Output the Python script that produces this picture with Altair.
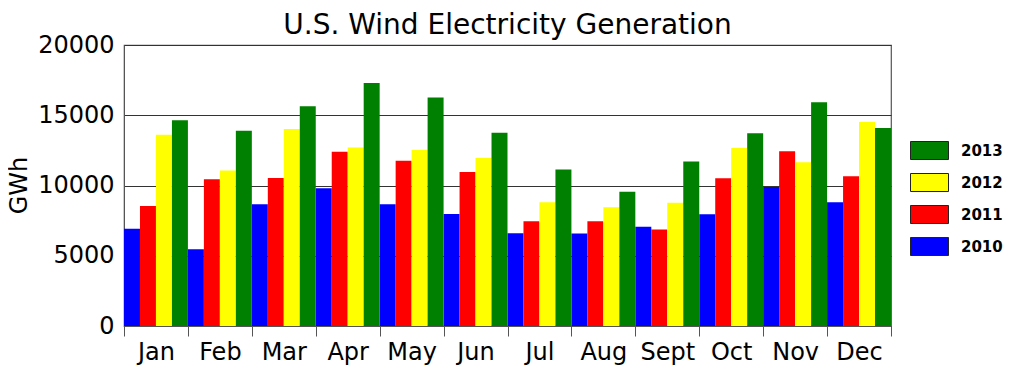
import altair as alt
import pandas as pd

months = ["Jan", "Feb", "Mar", "Apr", "May", "Jun", "Jul", "Aug", "Sept", "Oct", "Nov", "Dec"]
years = ["2010", "2011", "2012", "2013"]
gen_2010 = [6930, 5460, 8660, 9800, 8660, 7970, 6600, 6580, 7070, 7950, 9890, 8800]
gen_2011 = [8540, 10440, 10530, 12410, 11770, 10960, 7450, 7450, 6860, 10510, 12430, 10650]
gen_2012 = [13620, 11060, 14020, 12700, 12530, 11960, 8800, 8450, 8780, 12670, 11650, 14520]
gen_2013 = [14640, 13900, 15640, 17300, 16260, 13760, 11130, 9560, 11700, 13720, 15920, 14090]

series = {"2010": gen_2010, "2011": gen_2011, "2012": gen_2012, "2013": gen_2013}
rows = []
for y, vals in series.items():
    for m, v in zip(months, vals):
        rows.append({"month": m, "year": y, "gwh": v})
df = pd.DataFrame(rows)

legend_order = ["2013", "2012", "2011", "2010"]
legend_colors = ["#008000", "#FFFF00", "#FF0000", "#0000FF"]

rect_path = "M-1,-0.4737L1,-0.4737L1,0.4737L-1,0.4737Z"

chart = alt.Chart(df).mark_bar().encode(
    x=alt.X("month:N", sort=months, title=None,
            scale=alt.Scale(paddingInner=0, paddingOuter=0),
            axis=alt.Axis(tickBand="extent", labelAngle=0, labelFontSize=24,
                          labelColor="black", tickSize=10, tickColor="#555555",
                          domainColor="#555555", labelPadding=4, grid=False)),
    xOffset=alt.XOffset("year:N", sort=years,
                        scale=alt.Scale(paddingInner=0, paddingOuter=0)),
    y=alt.Y("gwh:Q", title="GWh",
            scale=alt.Scale(domain=[0, 20000], nice=False),
            axis=alt.Axis(values=[0, 5000, 10000, 15000, 20000], format="d",
                          labelFontSize=24, labelColor="black",
                          titleFontSize=24, titleFontWeight="normal",
                          titleColor="black", titleAngle=-90, titleX=-105, titleY=140,
                          titleAlign="center", titleBaseline="middle",
                          ticks=False, labelPadding=10,
                          domainColor="#555555", grid=True, gridColor="#333333",
                          gridOpacity=1, gridWidth=1.2)),
    color=alt.Color("year:N", sort=legend_order,
                    scale=alt.Scale(domain=legend_order, range=legend_colors),
                    legend=alt.Legend(title=None, orient="none", legendX=786, legendY=86,
                                      symbolType=rect_path, symbolSize=1444,
                                      symbolStrokeColor="#222222", symbolStrokeWidth=1,
                                      symbolOpacity=1, labelFontSize=15,
                                      labelFontWeight="bold", labelColor="black",
                                      labelOffset=12, rowPadding=1)),
).properties(
    width=767, height=281,
    title=alt.TitleParams("U.S. Wind Electricity Generation", fontSize=28,
                          fontWeight="normal", color="black", anchor="middle",
                          frame="group", offset=8, dy=15),
    autosize=alt.AutoSizeParams(type="none"),
    padding={"left": 116, "top": 37, "right": 125, "bottom": 50},
).configure(
    font="DejaVu Sans",
).configure_view(
    stroke="#555555", strokeWidth=1.2,
)

chart.save("out.html", embed_options={"renderer": "svg", "actions": False})
